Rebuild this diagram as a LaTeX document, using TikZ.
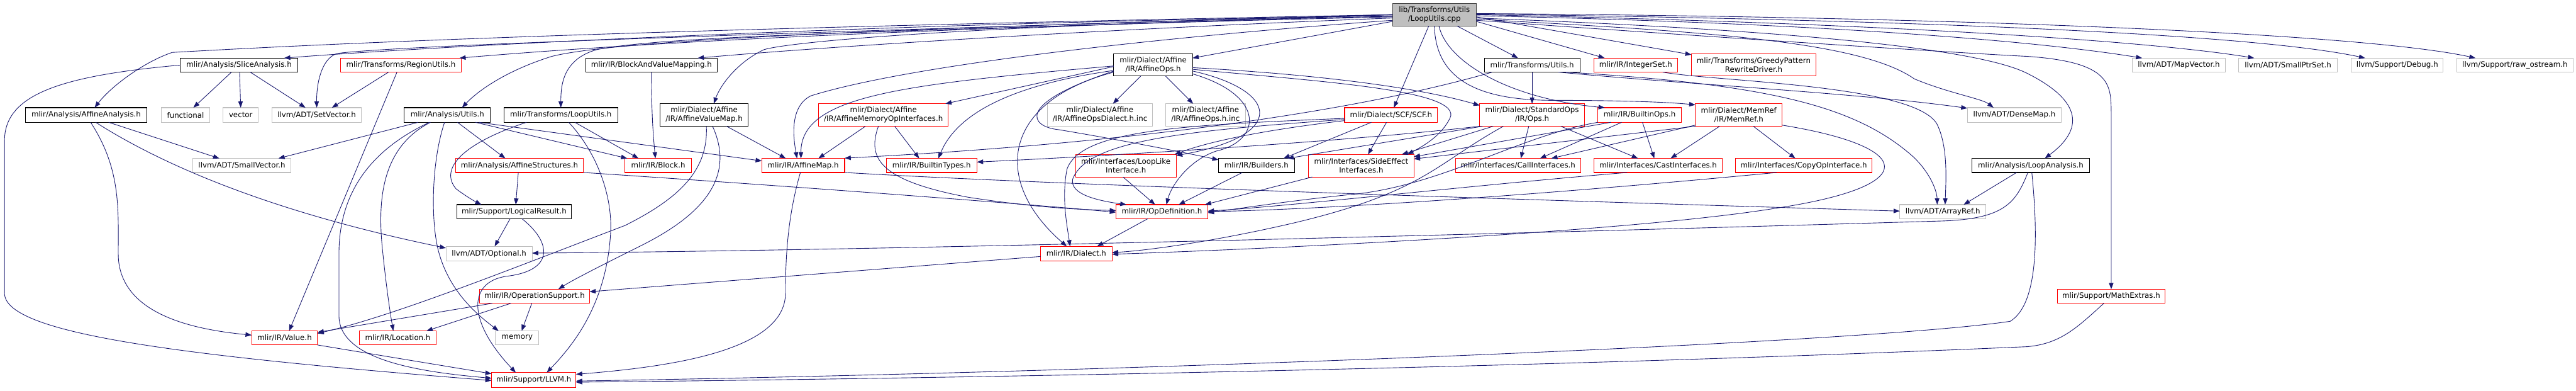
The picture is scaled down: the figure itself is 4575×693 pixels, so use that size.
\documentclass[tikz,border=0pt]{standalone}
\usepackage{fontspec}
\setmainfont{DejaVu Sans}
\usetikzlibrary{arrows.meta}
\definecolor{edgec}{HTML}{191970}
\definecolor{gbox}{HTML}{BFBFBF}
\tikzset{
 box/.style={draw, line width=1.2pt, inner sep=0pt, outer sep=0pt, align=center, text=black, font=\fontsize{13.2}{15.5}\selectfont},
 redbox/.style={box, draw=red},
 blkbox/.style={box, draw=black},
 graybox/.style={box, draw=gbox},
 rootbox/.style={box, draw=black!75, fill=gbox},
 ed/.style={draw=edgec, line width=1pt, -{Triangle[length=11pt,width=8pt]}}
}
\newcommand\mknode[7]{\node[#6,minimum width={#4-#2},minimum height={#5-#3}] (#1) at ({(#2+#4)/2},{(#3+#5)/2}) {#7};}
\begin{document}
\begin{tikzpicture}[x=1pt,y=-1pt]
\useasboundingbox (0,0) rectangle (4575,693);
% nodes
\mknode{root}{2473}{6}{2622}{46}{rootbox}{lib/Transforms/Utils\\/LoopUtils.cpp}
\mknode{slice}{320}{103}{529}{128}{blkbox}{mlir/Analysis/SliceAnalysis.h}
\mknode{aana}{45}{191}{261}{217}{blkbox}{mlir/Analysis/AffineAnalysis.h}
\mknode{func}{286}{191}{373}{217}{graybox}{functional}
\mknode{vec}{396}{191}{459}{217}{graybox}{vector}
\mknode{setv}{483}{191}{642}{217}{graybox}{llvm/ADT/SetVector.h}
\mknode{smallv}{342}{281}{517}{306}{graybox}{llvm/ADT/SmallVector.h}
\mknode{value}{447}{587}{564}{612}{redbox}{mlir/IR/Value.h}
\mknode{region}{605}{103}{819}{128}{redbox}{mlir/Transforms/RegionUtils.h}
\mknode{autils}{718}{191}{871}{217}{blkbox}{mlir/Analysis/Utils.h}
\mknode{tloop}{895}{191}{1097}{217}{blkbox}{mlir/Transforms/LoopUtils.h}
\mknode{bavm}{1040}{103}{1274}{128}{blkbox}{mlir/IR/BlockAndValueMapping.h}
\mknode{astruct}{809}{281}{1036}{306}{redbox}{mlir/Analysis/AffineStructures.h}
\mknode{logres}{811}{363}{1015}{388}{blkbox}{mlir/Support/LogicalResult.h}
\mknode{optional}{792}{437}{945}{463}{graybox}{llvm/ADT/Optional.h}
\mknode{opsupp}{852}{513}{1047}{538}{redbox}{mlir/IR/OperationSupport.h}
\mknode{location}{638}{587}{775}{612}{redbox}{mlir/IR/Location.h}
\mknode{memory}{880}{587}{957}{612}{graybox}{memory}
\mknode{llvmh}{873}{661}{1023}{687}{redbox}{mlir/Support/LLVM.h}
\mknode{block}{1110}{281}{1228}{306}{redbox}{mlir/IR/Block.h}
\mknode{avmap}{1172}{184}{1329}{224}{blkbox}{mlir/Dialect/Affine\\/IR/AffineValueMap.h}
\mknode{amap}{1353}{281}{1500}{306}{redbox}{mlir/IR/AffineMap.h}
\mknode{amemop}{1454}{184}{1684}{224}{redbox}{mlir/Dialect/Affine\\/IR/AffineMemoryOpInterfaces.h}
\mknode{btypes}{1574}{281}{1735}{306}{redbox}{mlir/IR/BuiltinTypes.h}
\mknode{aops}{1978}{95}{2118}{135}{blkbox}{mlir/Dialect/Affine\\/IR/AffineOps.h}
\mknode{aopsdinc}{1860}{184}{2047}{224}{graybox}{mlir/Dialect/Affine\\/IR/AffineOpsDialect.h.inc}
\mknode{aopsinc}{2070}{184}{2212}{224}{graybox}{mlir/Dialect/Affine\\/IR/AffineOps.h.inc}
\mknode{looplike}{1910}{274}{2089}{314}{redbox}{mlir/Interfaces/LoopLike\\Interface.h}
\mknode{builders}{2164}{281}{2299}{306}{blkbox}{mlir/IR/Builders.h}
\mknode{opdef}{1982}{363}{2145}{388}{redbox}{mlir/IR/OpDefinition.h}
\mknode{dialect}{1848}{437}{1975}{463}{redbox}{mlir/IR/Dialect.h}
\mknode{tutils}{2636}{103}{2806}{128}{blkbox}{mlir/Transforms/Utils.h}
\mknode{scf}{2388}{191}{2553}{217}{redbox}{mlir/Dialect/SCF/SCF.h}
\mknode{stdops}{2628}{184}{2814}{224}{redbox}{mlir/Dialect/StandardOps\\/IR/Ops.h}
\mknode{sideeff}{2324}{274}{2511}{314}{redbox}{mlir/Interfaces/SideEffect\\Interfaces.h}
\mknode{callif}{2585}{281}{2807}{306}{redbox}{mlir/Interfaces/CallInterfaces.h}
\mknode{intset}{2831}{103}{2979}{128}{redbox}{mlir/IR/IntegerSet.h}
\mknode{greedy}{3004}{95}{3225}{135}{redbox}{mlir/Transforms/GreedyPattern\\RewriteDriver.h}
\mknode{bops}{2838}{191}{2986}{217}{redbox}{mlir/IR/BuiltinOps.h}
\mknode{memref}{3011}{184}{3165}{224}{redbox}{mlir/Dialect/MemRef\\/IR/MemRef.h}
\mknode{castif}{2831}{281}{3059}{306}{redbox}{mlir/Interfaces/CastInterfaces.h}
\mknode{copyop}{3082}{281}{3325}{306}{redbox}{mlir/Interfaces/CopyOpInterface.h}
\mknode{arrayref}{3374}{363}{3527}{388}{graybox}{llvm/ADT/ArrayRef.h}
\mknode{mapvec}{3787}{103}{3952}{128}{graybox}{llvm/ADT/MapVector.h}
\mknode{densemap}{3494}{191}{3661}{217}{graybox}{llvm/ADT/DenseMap.h}
\mknode{loopana}{3502}{281}{3711}{306}{blkbox}{mlir/Analysis/LoopAnalysis.h}
\mknode{mathex}{3654}{513}{3845}{538}{redbox}{mlir/Support/MathExtras.h}
\mknode{smallptr}{3976}{103}{4151}{128}{graybox}{llvm/ADT/SmallPtrSet.h}
\mknode{debug}{4176}{103}{4339}{128}{graybox}{llvm/Support/Debug.h}
\mknode{rawos}{4363}{103}{4570}{128}{graybox}{llvm/Support/raw\_ostream.h}

% root edges
\draw[ed] ([yshift=-2pt]root.west) .. controls (1600,40) and (800,80) .. ([xshift=80pt]slice.north);
\draw[ed] (root.west) .. controls (1500,45) and (800,65) .. (306,93) .. controls (260,108) and (200,150) .. ([xshift=15pt]aana.north);
\draw[ed] (root.west) .. controls (1500,55) and (700,80) .. (598,95) .. controls (570,105) and (562,150) .. (setv.north);
\draw[ed] ([yshift=-4pt]root.west) .. controls (1800,45) and (1200,70) .. ([xshift=104pt]region.north);
\draw[ed] (root.west) .. controls (1600,50) and (1100,70) .. (980,100) .. controls (900,125) and (850,160) .. ([xshift=26pt]autils.north);
\draw[ed] (root.west) .. controls (1700,55) and (1200,60) .. (1060,88) .. controls (1000,105) and (996,150) .. (tloop.north);
\draw[ed] ([yshift=-6pt]root.west) .. controls (2000,50) and (1500,80) .. ([xshift=82pt]bavm.north);
\draw[ed] ([yshift=-3pt]root.west) .. controls (1700,45) and (1400,75) .. (1357,88) .. controls (1310,110) and (1280,150) .. ([xshift=17pt]avmap.north);
\draw[ed] ([yshift=-10pt]root.west) .. controls (2000,70) and (1600,120) .. (1440,170) .. controls (1400,190) and (1410,250) .. ([xshift=-11pt]amap.north);
\draw[ed] ([yshift=-12pt]root.west) -- ([yshift=12pt]aops.east);
\draw[ed] ([xshift=-10pt]root.south) -- ([xshift=5pt]scf.north);
\draw[ed] ([xshift=40pt]root.south) -- ([xshift=-25pt]tutils.north);
\draw[ed] ([yshift=-12pt]root.east) -- ([xshift=-55pt]intset.north);
\draw[ed] ([yshift=-4pt]root.east) -- ([yshift=-2pt]greedy.north west);
\draw[ed] ([xshift=8pt]root.south) .. controls (2570,110) and (2680,175) .. ([xshift=12pt]bops.north west);
\draw[ed] (root.south) .. controls (2550,150) and (2640,178) .. (2760,178) .. controls (2850,178) and (2950,180) .. ([yshift=-2pt]memref.north west);
\draw[ed] ([yshift=-8pt]root.east) .. controls (3000,55) and (3300,70) .. (3400,140) .. controls (3460,165) and (3520,175) .. ([xshift=-37pt]densemap.north);
\draw[ed] ([yshift=-2pt]root.east) .. controls (3200,40) and (3600,70) .. ([xshift=-65pt]mapvec.north);
\draw[ed] (root.east) .. controls (3300,40) and (3800,70) .. ([xshift=-60pt]smallptr.north);
\draw[ed] ([yshift=1pt]root.east) .. controls (3400,35) and (4000,60) .. ([xshift=-57pt]debug.north);
\draw[ed] ([yshift=2pt]root.east) .. controls (3500,30) and (4200,60) .. ([xshift=-70pt]rawos.north);
\draw[ed] ([yshift=-6pt]root.east) .. controls (3100,50) and (3500,80) .. (3600,130) .. controls (3700,180) and (3700,230) .. ([xshift=25pt]loopana.north);
\draw[ed] ([yshift=-10pt]root.east) .. controls (3100,70) and (3500,95) .. (3600,100) .. controls (3750,110) and (3749,150) .. (3749.5,200) -- (mathex.north);

% slice
\draw[ed] (slice) -- (func);
\draw[ed] ([xshift=1pt]slice.south) -- (vec.north);
\draw[ed] ([xshift=20pt]slice.south) -- ([xshift=-20pt]setv.north);
\draw[ed] (slice.west) .. controls (100,135) and (8,170) .. (8,250) -- (8,520) .. controls (8,590) and (300,630) .. ([yshift=-1pt]llvmh.west);
% affine analysis
\draw[ed] ([xshift=40pt]aana.south) -- ([xshift=-40pt]smallv.north);
\draw[ed] ([xshift=17pt]aana.south) .. controls (300,300) and (500,380) .. ([yshift=10pt]optional.west);
\draw[ed] ([xshift=8pt]aana.south) .. controls (215,300) and (210,370) .. (210,450) .. controls (210,560) and (350,585) .. ([yshift=5pt]value.west);
% region utils
\draw[ed] ([xshift=-22pt]region.south) -- ([xshift=27pt]setv.north);
\draw[ed] ([xshift=-7pt]region.south) -- ([xshift=8pt]value.north);
% analysis utils
\draw[ed] ([xshift=-52pt]autils.south) -- ([xshift=65pt]smallv.north);
\draw[ed] ([xshift=18pt]autils.south) -- ([xshift=-25pt]astruct.north);
\draw[ed] ([xshift=50pt]autils.south) -- ([xshift=4pt]block.north west);
\draw[ed] ([xshift=56pt]autils.south) -- ([yshift=8pt]amap.west);
\draw[ed] ([xshift=-30pt]autils.south) .. controls (680,260) and (670,350) .. (679,440) .. controls (685,500) and (692,550) .. ([xshift=-8pt]location.north);
\draw[ed] ([xshift=-32pt]autils.south) .. controls (650,270) and (602,350) .. (602,450) -- (602,560) .. controls (602,640) and (750,660) .. ([yshift=3pt]llvmh.west);
\draw[ed] ([xshift=-5pt]autils.south) .. controls (765,290) and (765,400) .. (780,450) .. controls (800,520) and (850,560) .. ([xshift=-33pt]memory.north);
% transforms loop utils
\draw[ed] ([xshift=25pt]tloop.south) -- ([xshift=-35pt]block.north);
\draw[ed] ([xshift=-61pt]tloop.south) .. controls (820,255) and (780,300) .. (810,335) .. controls (830,350) and (845,358) .. ([xshift=-58pt]logres.north);
\draw[ed] ([xshift=14pt]tloop.south) .. controls (1060,270) and (1090,350) .. (1084,420) .. controls (1075,540) and (1020,610) .. ([xshift=23pt]llvmh.north);
% block and value mapping
\draw[ed] (bavm.south) .. controls (1157,200) and (1160,240) .. ([xshift=-5pt]block.north);
% affine value map
\draw[ed] ([xshift=40pt]avmap.south) -- ([xshift=-31pt]amap.north);
\draw[ed] ([xshift=4pt]avmap.south) .. controls (1258,300) and (1210,350) .. (1110,400) .. controls (900,480) and (700,560) .. ([yshift=8pt]value.east);
\draw[ed] ([xshift=15pt]avmap.south) .. controls (1300,300) and (1270,370) .. (1140,435) .. controls (1080,465) and (1020,495) .. ([xshift=42pt]opsupp.north);
% affine memory op interfaces
\draw[ed] ([xshift=-32pt]amemop.south) -- ([xshift=27pt]amap.north);
\draw[ed] ([xshift=20pt]amemop.south) -- ([xshift=-22pt]btypes.north);
\draw[ed] ([xshift=-9pt]amemop.south) .. controls (1540,280) and (1560,320) .. (1720,350) .. controls (1850,370) and (1930,372) .. ([yshift=2pt]opdef.west);
% affine map
\draw[ed] ([xshift=-5pt]amap.south) .. controls (1400,380) and (1395,450) .. (1395,520) .. controls (1395,620) and (1200,650) .. ([yshift=10pt]llvmh.east);
\draw[ed] (amap.south east) .. controls (1900,330) and (2900,360) .. ([yshift=1pt]arrayref.west);
% affine ops
\draw[ed] ([yshift=-3pt]aops.west) -- ([xshift=-5pt]amemop.north east);
\draw[ed] ([yshift=-2pt]aops.west) .. controls (1600,150) and (1422,170) .. ([xshift=-4pt]amap.north);
\draw[ed] ([yshift=-10pt]aops.west) .. controls (1800,150) and (1700,200) .. ([xshift=12pt]btypes.north);
\draw[ed] ([yshift=-13pt]aops.west) .. controls (1780,180) and (1760,320) .. ([xshift=-17pt]dialect.north);
\draw[ed] ([yshift=-11pt]aops.west) .. controls (1800,185) and (1830,225) .. (1880,230) .. controls (2000,250) and (2100,270) .. ([yshift=10pt]builders.west);
\draw[ed] ([yshift=-11pt]aops.east) .. controls (2270,160) and (2290,240) .. ([yshift=18pt]looplike.east);
\draw[ed] ([yshift=-16pt]aops.east) .. controls (2250,170) and (2240,250) .. (2160,268) .. controls (2110,285) and (2080,330) .. ([xshift=8pt]opdef.north);
\draw[ed] ([xshift=-22pt]aops.south) -- ([xshift=23pt]aopsdinc.north);
\draw[ed] ([xshift=22pt]aops.south) -- ([xshift=-22pt]aopsinc.north);
\draw[ed] ([yshift=-5pt]aops.east) .. controls (2300,130) and (2500,150) .. ([yshift=17pt]stdops.west);
\draw[ed] ([yshift=-8pt]aops.east) .. controls (2350,145) and (2600,160) .. (2575,210) .. controls (2560,240) and (2530,258) .. ([xshift=82pt]sideeff.north);
% scf
\draw[ed] ([xshift=-8pt]scf.south) -- ([xshift=12pt]sideeff.north);
\draw[ed] ([xshift=-35pt]scf.south) -- ([xshift=48pt]builders.north);
\draw[ed] ([yshift=-10pt]scf.west) .. controls (2250,230) and (2150,250) .. ([xshift=-3pt]looplike.north east);
\draw[ed] ([yshift=-6pt]scf.west) .. controls (2100,222) and (1920,230) .. (1895,300) .. controls (1885,350) and (1895,400) .. ([xshift=-11pt]dialect.north);
\draw[ed] ([yshift=-8pt]scf.west) .. controls (2100,232) and (1930,250) .. (1905,318) .. controls (1900,345) and (1950,356) .. ([xshift=-63pt]opdef.north);
% standard ops
\draw[ed] ([xshift=-69pt]stdops.south) -- ([xshift=72pt]sideeff.north);
\draw[ed] ([xshift=-6pt]stdops.south) -- ([xshift=5pt]callif.north);
\draw[ed] ([xshift=51pt]stdops.south) -- ([xshift=-36pt]castif.north);
\draw[ed] ([xshift=-51pt]stdops.south) .. controls (2550,290) and (2530,340) .. (2300,395) .. controls (2150,430) and (2030,445) .. ([yshift=2pt]dialect.east);
\draw[ed] (stdops.south west) .. controls (2400,250) and (2000,275) .. ([yshift=6pt]btypes.east);
\draw[ed] ([xshift=5pt]stdops.south west) -- ([xshift=55pt]builders.north);
% transforms utils
\draw[ed] (tutils.south) -- (stdops.north);
\draw[ed] ([xshift=-71pt]tutils.south) .. controls (2400,200) and (2000,255) .. ([yshift=13pt]amap.east);
\draw[ed] ([xshift=47pt]tutils.south) .. controls (3000,150) and (3300,165) .. ([yshift=12pt]densemap.west);
\draw[ed] ([xshift=60pt]tutils.south) .. controls (3150,150) and (3300,190) .. (3400,280) .. controls (3430,310) and (3440,340) .. ([xshift=-10pt]arrayref.north);
% integer set
\draw[ed] ([xshift=48pt]intset.south) .. controls (3050,145) and (3400,150) .. (3440,220) .. controls (3460,260) and (3456,320) .. ([xshift=4pt]arrayref.north);
% builtin ops
\draw[ed] ([xshift=5pt]bops.south) -- ([xshift=-7pt]castif.north);
\draw[ed] ([xshift=-32pt]bops.south) -- ([xshift=39pt]callif.north);
\draw[ed] ([xshift=-51pt]bops.south) -- ([yshift=16pt]sideeff.east);
\draw[ed] (bops.south west) .. controls (2700,240) and (2560,330) .. (2400,345) .. controls (2300,355) and (2200,370) .. ([yshift=-2pt]opdef.east);
% memref
\draw[ed] ([xshift=-34pt]memref.south) -- ([xshift=22pt]castif.north);
\draw[ed] ([xshift=26pt]memref.south) -- ([xshift=-15pt]copyop.north);
\draw[ed] ([yshift=-18pt]memref.west) -- ([xshift=59pt]callif.north);
\draw[ed] (memref.south west) -- ([yshift=12pt]sideeff.east);
\draw[ed] ([yshift=-18pt]memref.east) .. controls (3400,260) and (3420,330) .. (3150,370) .. controls (2900,410) and (2300,440) .. ([yshift=-1pt]dialect.east);
% loop analysis, math extras
\draw[ed] ([xshift=-25pt]loopana.south) -- ([xshift=37pt]arrayref.north);
\draw[ed] ([xshift=-5pt]loopana.south) .. controls (3580,360) and (3560,388) .. (3450,392) .. controls (2500,420) and (1500,445) .. ([yshift=1pt]optional.east);
\draw[ed] ([xshift=2pt]loopana.south) .. controls (3620,420) and (3620,540) .. (3570,570) .. controls (3300,610) and (2000,660) .. ([yshift=-2pt]llvmh.east);
\draw[ed] ([xshift=-13pt]mathex.south) .. controls (3690,580) and (3660,610) .. (3600,615) .. controls (2800,650) and (1800,670) .. ([yshift=-4pt]llvmh.east);
% affine structures, logical result
\draw[ed] ([xshift=-2pt]astruct.south) -- ([xshift=3pt]logres.north);
\draw[ed] (astruct.south east) .. controls (1400,330) and (1800,360) .. ([yshift=-1pt]opdef.west);
\draw[ed] ([xshift=-7pt]logres.south) -- ([xshift=10pt]optional.north);
\draw[ed] ([xshift=14pt]logres.south) .. controls (980,430) and (985,480) .. (900,490) .. controls (830,500) and (830,570) .. ([xshift=-32pt]llvmh.north);
% lower IR
\draw[ed] ([xshift=-25pt]opdef.south) -- ([xshift=37pt]dialect.north);
\draw[ed] ([yshift=-5pt]dialect.west) -- ([yshift=8pt]opsupp.east);
\draw[ed] ([xshift=-75pt]opsupp.south) -- ([yshift=10pt]value.east);
\draw[ed] ([xshift=-42pt]opsupp.south) -- ([xshift=51pt]location.north);
\draw[ed] ([xshift=-5pt]opsupp.south) -- ([xshift=8pt]memory.north);
\draw[ed] (value.south east) -- ([yshift=11pt]llvmh.west);
% interfaces to op definition
\draw[ed] ([xshift=-25pt]builders.south) -- ([xshift=30pt]opdef.north);
\draw[ed] ([xshift=-5pt]looplike.south) -- ([xshift=-12pt]opdef.north);
\draw[ed] ([xshift=-87pt]sideeff.south) -- ([xshift=-5pt]opdef.north east);
\draw[ed] ([xshift=-55pt]castif.south) .. controls (2600,330) and (2300,365) .. ([yshift=1pt]opdef.east);
\draw[ed] ([xshift=-48pt]copyop.south) .. controls (2800,340) and (2400,370) .. (opdef.east);
\end{tikzpicture}
\end{document}
